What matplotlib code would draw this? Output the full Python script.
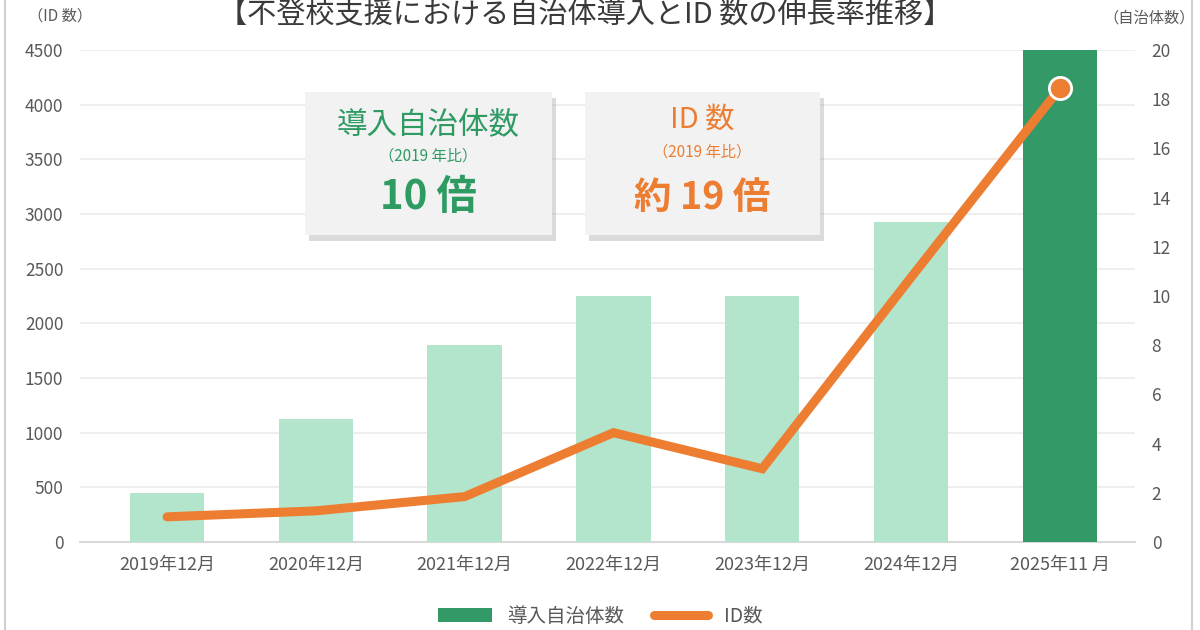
import matplotlib
matplotlib.use("Agg")
import matplotlib.pyplot as plt
import matplotlib.patheffects as pe
from matplotlib.patches import FancyBboxPatch
from matplotlib.lines import Line2D

plt.rcParams['font.family'] = ['Noto Sans CJK JP', 'DejaVu Sans']

categories = ["2019年12月", "2020年12月", "2021年12月", "2022年12月",
              "2023年12月", "2024年12月", "2025年11 月"]
municipalities = [2, 5, 8, 10, 10, 13, 20]
id_counts = [230, 285, 415, 1000, 670, 2420, 4150]
left_ticks = [0, 500, 1000, 1500, 2000, 2500, 3000, 3500, 4000, 4500]
right_ticks = [0, 2, 4, 6, 8, 10, 12, 14, 16, 18, 20]

LIGHT = "#B3E5CC"
DARK = "#339966"
ORANGE = "#ED7D31"
TXT = "#595959"

fig = plt.figure(figsize=(12, 6.3), dpi=100)
pos = [0.0667, 0.1397, 0.8791, 0.7809]
x = list(range(len(categories)))

# background axis: left scale + grid
ax_grid = fig.add_axes(pos)
ax_grid.set_ylim(0, 4500)
ax_grid.set_xlim(-0.585, 6.505)
ax_grid.set_yticks(left_ticks)
ax_grid.grid(axis='y', color='#EBEBEB', linewidth=1.2)
ax_grid.set_axisbelow(True)
ax_grid.tick_params(axis='y', length=0, pad=12, labelsize=12.5, labelcolor=TXT)
ax_grid.set_xticks(x)
ax_grid.set_xticklabels(categories)
ax_grid.tick_params(axis='x', length=0, pad=10, labelsize=13, labelcolor=TXT)
for s in ['top', 'right', 'left']:
    ax_grid.spines[s].set_visible(False)
ax_grid.spines['bottom'].set_color('#D9D9D9')
ax_grid.spines['bottom'].set_linewidth(1.5)

# bars: right scale
ax_bar = ax_grid.twinx()
ax_bar.set_ylim(0, 20)
ax_bar.set_yticks(right_ticks)
ax_bar.tick_params(axis='y', length=0, pad=12, labelsize=12.5, labelcolor=TXT)
bar_colors = [LIGHT] * (len(categories) - 1) + [DARK]
bars = ax_bar.bar(x, municipalities, width=0.5, color=bar_colors, label="導入自治体数", zorder=2)
for s in ax_bar.spines.values():
    s.set_visible(False)

# line: left scale
ax_line = fig.add_axes(pos, sharex=ax_grid, sharey=ax_grid)
ax_line.patch.set_visible(False)
ax_line.axis('off')
ax_line.plot(x, id_counts, color=ORANGE, linewidth=6.5, solid_capstyle='round',
             solid_joinstyle='miter', zorder=3, label="ID数")
ax_line.plot([x[-1]], [id_counts[-1]], 'o', color=ORANGE, markersize=16,
             markeredgecolor='white', markeredgewidth=2, zorder=4)

# axis titles
fig.text(0.05, 0.975, "（ID 数）", ha='center', va='center', fontsize=11, color=TXT)
fig.text(0.958, 0.972, "（自治体数）", ha='center', va='center', fontsize=11, color=TXT)

# main title
fig.text(0.488, 0.978, "【不登校支援における自治体導入とID 数の伸長率推移】", ha='center',
         va='center', fontsize=21, color='#3A3A3A')

# annotation boxes
shadow = [pe.withSimplePatchShadow(offset=(3, -4), shadow_rgbFace='#9A9A9A', alpha=0.35), pe.Normal()]
for x0, x1 in [(0.254, 0.46), (0.4875, 0.683)]:
    box = FancyBboxPatch((x0, 0.627), x1 - x0, 0.227, boxstyle="square,pad=0",
                         transform=fig.transFigure, facecolor='#F2F2F2',
                         edgecolor='none', zorder=5)
    box.set_path_effects(shadow)
    fig.add_artist(box)

GREEN_T = "#2E9B62"
fig.text(0.357, 0.803, "導入自治体数", ha='center', va='center', fontsize=22, color=GREEN_T, zorder=6)
fig.text(0.357, 0.752, "（2019 年比）", ha='center', va='center', fontsize=11, color=GREEN_T, zorder=6)
fig.text(0.357, 0.686, r"10 倍", ha='center', va='center', fontsize=29, color=GREEN_T,
         fontweight='bold', zorder=6)

fig.text(0.585, 0.81, "ID 数", ha='center', va='center', fontsize=21, color=ORANGE, zorder=6)
fig.text(0.585, 0.759, "（2019 年比）", ha='center', va='center', fontsize=11, color=ORANGE, zorder=6)
fig.text(0.585, 0.687, "約 19 倍", ha='center', va='center', fontsize=27, color=ORANGE,
         fontweight='bold', zorder=6)

# frame lines
fig.add_artist(Line2D([0.004, 0.004], [0, 1], transform=fig.transFigure, color='#D0D0D0', lw=1.5))
fig.add_artist(Line2D([0.993, 0.993], [0, 1], transform=fig.transFigure, color='#D0D0D0', lw=1.5))

# legend at the bottom
handles = [bars, ax_line.get_lines()[0]]
leg = fig.legend(handles, ["導入自治体数", "ID数"], loc='center',
                 bbox_to_anchor=(0.5, 0.022), ncol=2, frameon=False, fontsize=14,
                 labelcolor=TXT, handlelength=2.8, columnspacing=1.5,
                 borderpad=0.1)
leg.legend_handles[0].set_facecolor(DARK)

fig.savefig("out.png", dpi=100)
